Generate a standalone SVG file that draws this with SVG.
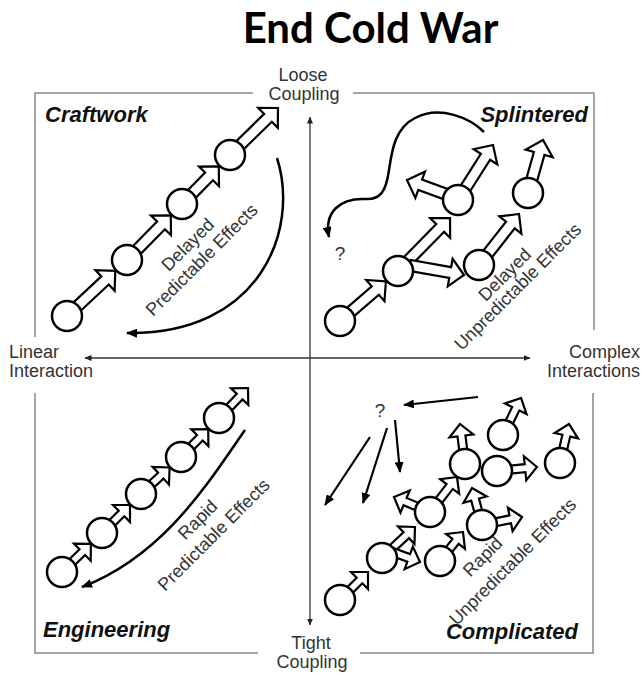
<svg xmlns="http://www.w3.org/2000/svg" width="642" height="678" viewBox="0 0 642 678">
<defs>
<style>
.c{fill:#fff;stroke:#000;stroke-width:2.5}
.ba{fill:#fff;stroke:#000;stroke-width:2.2;stroke-linejoin:miter}
.cv{fill:none;stroke:#000;stroke-width:2.5;marker-end:url(#ah)}
.th{fill:none;stroke:#000;stroke-width:2.2;marker-end:url(#ah)}
.fr{fill:none;stroke:#888;stroke-width:1.5}
.ax{fill:none;stroke:#333;stroke-width:1.3;marker-start:url(#axh);marker-end:url(#axh)}
.lbl{font-family:"Liberation Sans",Arial,sans-serif;font-size:18px;fill:#333}
.ql{font-family:"Liberation Sans",Arial,sans-serif;font-size:22px;font-weight:bold;font-style:italic;fill:#111}
.rt{font-family:"Liberation Sans",Arial,sans-serif;font-size:18px;fill:#333;text-anchor:middle}
.ttl{font-family:Lato,"Liberation Sans",Arial,sans-serif;font-size:42px;font-weight:bold;fill:#000;text-anchor:middle}
.q{font-family:"Liberation Sans",Arial,sans-serif;font-size:18px;fill:#333;text-anchor:middle}
.qm{font-family:"Liberation Sans",Arial,sans-serif;font-size:19px;fill:#333;text-anchor:middle}
</style>
<marker id="ah" viewBox="0 0 11 9" refX="10" refY="4.5" markerWidth="11" markerHeight="9" markerUnits="userSpaceOnUse" orient="auto"><path d="M0,0 L11,4.5 L0,9 Z" fill="#000"/></marker>
<marker id="axh" viewBox="0 0 7 6" refX="6.5" refY="3" markerWidth="7" markerHeight="6" markerUnits="userSpaceOnUse" orient="auto-start-reverse"><path d="M0,0 L7,3 L0,6 Z" fill="#222"/></marker>
</defs>
<rect width="642" height="678" fill="#fff"/>

<g id="title"><text class="ttl" x="370.5" y="43">End Cold War</text></g>

<g id="frame" class="fr">
<path d="M253,93 H35 V337"/>
<path d="M353,93 H594 V330"/>
<path d="M35,393 V653 H258"/>
<path d="M360,653 H593 V393"/>
</g>

<g id="connectors">
<g id="axes">
<line class="ax" x1="310" y1="117" x2="310" y2="625"/>
<line class="ax" x1="85" y1="358" x2="530" y2="358"/>
</g>
<g id="craftwork-arrows">
<path class="ba" transform="translate(115.3,270.9) rotate(-43)" d="M0,0 L-14,-14 L-14,-5.5 L-66,-5.5 L-66,5.5 L-14,5.5 L-14,14 Z"/>
<path class="ba" transform="translate(170.8,215.4) rotate(-45.5)" d="M0,0 L-14,-14 L-14,-5.5 L-62.5,-5.5 L-62.5,5.5 L-14,5.5 L-14,14 Z"/>
<path class="ba" transform="translate(218.8,166.4) rotate(-45.6)" d="M0,0 L-14,-14 L-14,-5.5 L-52.6,-5.5 L-52.6,5.5 L-14,5.5 L-14,14 Z"/>
<path class="ba" transform="translate(278,108) rotate(-44.4)" d="M0,0 L-14,-14 L-14,-5.5 L-67,-5.5 L-67,5.5 L-14,5.5 L-14,14 Z"/>
<path class="cv" d="M277,158 C300,230 260,335 127,333"/>
</g>
<g id="splintered-arrows">
<path class="ba" transform="translate(385.9,281.4) rotate(-40.8)" d="M0,0 L-14,-14 L-14,-5.5 L-60.6,-5.5 L-60.6,5.5 L-14,5.5 L-14,14 Z"/>
<path class="ba" transform="translate(450,218) rotate(-45.5)" d="M0,0 L-14,-14 L-14,-5.5 L-74,-5.5 L-74,5.5 L-14,5.5 L-14,14 Z"/>
<path class="ba" transform="translate(464,275) rotate(10)" d="M0,0 L-14,-14 L-14,-5.5 L-55,-5.5 L-55,5.5 L-14,5.5 L-14,14 Z"/>
<path class="ba" transform="translate(493,145) rotate(-57.5)" d="M0,0 L-14,-14 L-14,-5.5 L-65,-5.5 L-65,5.5 L-14,5.5 L-14,14 Z"/>
<path class="ba" transform="translate(407,180) rotate(-160)" d="M0,0 L-14,-14 L-14,-5.5 L-55,-5.5 L-55,5.5 L-14,5.5 L-14,14 Z"/>
<path class="ba" transform="translate(519,214) rotate(-51.9)" d="M0,0 L-14,-14 L-14,-5.5 L-65,-5.5 L-65,5.5 L-14,5.5 L-14,14 Z"/>
<path class="ba" transform="translate(543,140) rotate(-74.2)" d="M0,0 L-14,-14 L-14,-5.5 L-55,-5.5 L-55,5.5 L-14,5.5 L-14,14 Z"/>
<path class="cv" d="M484,132 C470,118 440,105 415,118 C395,128 392,150 389,170 C386,192 380,200 365,199 C340,198 324,212 329,237"/>
</g>
<g id="engineering-arrows">
<path class="ba" transform="translate(90.9,543.8) rotate(-44.3)" d="M0,0 L-12,-12 L-12,-4 L-40.4,-4 L-40.4,4 L-12,4 L-12,12 Z"/>
<path class="ba" transform="translate(130,505) rotate(-45)" d="M0,0 L-12,-12 L-12,-4 L-39.7,-4 L-39.7,4 L-12,4 L-12,12 Z"/>
<path class="ba" transform="translate(169.6,467.5) rotate(-42.8)" d="M0,0 L-12,-12 L-12,-4 L-39,-4 L-39,4 L-12,4 L-12,12 Z"/>
<path class="ba" transform="translate(208.2,429.1) rotate(-45.7)" d="M0,0 L-12,-12 L-12,-4 L-39,-4 L-39,4 L-12,4 L-12,12 Z"/>
<path class="ba" transform="translate(248,388) rotate(-46)" d="M0,0 L-12,-12 L-12,-4 L-41.7,-4 L-41.7,4 L-12,4 L-12,12 Z"/>
<path class="cv" d="M245,430 C210,480 165,555 82,587"/>
</g>
<g id="complicated-arrows">
<path class="ba" transform="translate(368,572) rotate(-45)" d="M0,0 L-12,-12 L-12,-4 L-39.6,-4 L-39.6,4 L-12,4 L-12,12 Z"/>
<path class="ba" transform="translate(415,527) rotate(-43.2)" d="M0,0 L-12,-12 L-12,-4 L-45,-4 L-45,4 L-12,4 L-12,12 Z"/>
<path class="ba" transform="translate(420,562) rotate(20)" d="M0,0 L-12,-12 L-12,-4 L-38,-4 L-38,4 L-12,4 L-12,12 Z"/>
<path class="ba" transform="translate(394,497) rotate(-157.4)" d="M0,0 L-12,-12 L-12,-4 L-39,-4 L-39,4 L-12,4 L-12,12 Z"/>
<path class="ba" transform="translate(457,477) rotate(-52.4)" d="M0,0 L-12,-12 L-12,-4 L-44,-4 L-44,4 L-12,4 L-12,12 Z"/>
<path class="ba" transform="translate(463,532) rotate(-51.6)" d="M0,0 L-12,-12 L-12,-4 L-37,-4 L-37,4 L-12,4 L-12,12 Z"/>
<path class="ba" transform="translate(472,488) rotate(-105)" d="M0,0 L-12,-12 L-12,-4 L-38,-4 L-38,4 L-12,4 L-12,12 Z"/>
<path class="ba" transform="translate(522,517) rotate(-11.3)" d="M0,0 L-12,-12 L-12,-4 L-41,-4 L-41,4 L-12,4 L-12,12 Z"/>
<path class="ba" transform="translate(460,424) rotate(-97)" d="M0,0 L-12,-12 L-12,-4 L-40,-4 L-40,4 L-12,4 L-12,12 Z"/>
<path class="ba" transform="translate(537,467) rotate(-5.7)" d="M0,0 L-12,-12 L-12,-4 L-40,-4 L-40,4 L-12,4 L-12,12 Z"/>
<path class="ba" transform="translate(521,398) rotate(-64)" d="M0,0 L-12,-12 L-12,-4 L-41,-4 L-41,4 L-12,4 L-12,12 Z"/>
<path class="ba" transform="translate(569,424) rotate(-77)" d="M0,0 L-12,-12 L-12,-4 L-40,-4 L-40,4 L-12,4 L-12,12 Z"/>
<path class="th" d="M478,397 L404,405"/>
<path class="th" d="M370,437 L325,505"/>
<path class="th" d="M387,428 L363,503"/>
<path class="th" d="M395,420 L400,472"/>
</g>
</g>

<g id="axis-labels">
<g id="loose-coupling"><text class="q" x="303" y="81">Loose</text><text class="q" x="304" y="100">Coupling</text></g>
<g id="tight-coupling"><text class="q" x="311" y="649">Tight</text><text class="q" x="312" y="668">Coupling</text></g>
<g id="linear-interaction"><text class="lbl" x="9" y="358">Linear</text><text class="lbl" x="9" y="377">Interaction</text></g>
<g id="complex-interactions"><text class="lbl" x="640" y="358" text-anchor="end">Complex</text><text class="lbl" x="640" y="377" text-anchor="end">Interactions</text></g>
</g>

<g id="craftwork">
<circle class="c" cx="67" cy="316" r="15"/>
<circle class="c" cx="127" cy="260" r="15"/>
<circle class="c" cx="182" cy="204" r="15"/>
<circle class="c" cx="230" cy="155" r="15"/>
<text class="ql" x="45" y="122">Craftwork</text>
<text class="rt" transform="translate(192,249) rotate(-45)">Delayed</text>
<text class="rt" transform="translate(206,264) rotate(-45)">Predictable Effects</text>
</g>

<g id="splintered">
<circle class="c" cx="340" cy="321" r="15"/>
<circle class="c" cx="398" cy="271" r="15"/>
<circle class="c" cx="458" cy="200" r="15"/>
<circle class="c" cx="479" cy="265" r="15"/>
<circle class="c" cx="528" cy="193" r="15"/>
<text class="ql" x="588" y="122" text-anchor="end">Splintered</text>
<text class="qm" x="340" y="260">?</text>
<text class="rt" transform="translate(509,279) rotate(-45)">Delayed</text>
<text class="rt" transform="translate(522,291) rotate(-45)">Unpredictable Effects</text>
</g>

<g id="engineering">
<circle class="c" cx="62" cy="572" r="15"/>
<circle class="c" cx="102" cy="533" r="15"/>
<circle class="c" cx="141" cy="494" r="15"/>
<circle class="c" cx="181" cy="457" r="15"/>
<circle class="c" cx="219" cy="418" r="15"/>
<text class="ql" x="43" y="637">Engineering</text>
<text class="rt" transform="translate(202,524) rotate(-45)">Rapid</text>
<text class="rt" transform="translate(218,539) rotate(-45)">Predictable Effects</text>
</g>

<g id="complicated">
<circle class="c" cx="340" cy="600" r="15"/>
<circle class="c" cx="382" cy="558" r="15"/>
<circle class="c" cx="430" cy="512" r="15"/>
<circle class="c" cx="440" cy="561" r="15"/>
<circle class="c" cx="482" cy="525" r="15"/>
<circle class="c" cx="465" cy="464" r="15"/>
<circle class="c" cx="497" cy="471" r="15"/>
<circle class="c" cx="503" cy="435" r="15"/>
<circle class="c" cx="560" cy="463" r="15"/>
<text class="ql" x="578" y="639" text-anchor="end">Complicated</text>
<text class="qm" x="380" y="417">?</text>
<text class="rt" transform="translate(487,561) rotate(-45)">Rapid</text>
<text class="rt" transform="translate(517,566) rotate(-45)">Unpredictable Effects</text>
</g>
</svg>
